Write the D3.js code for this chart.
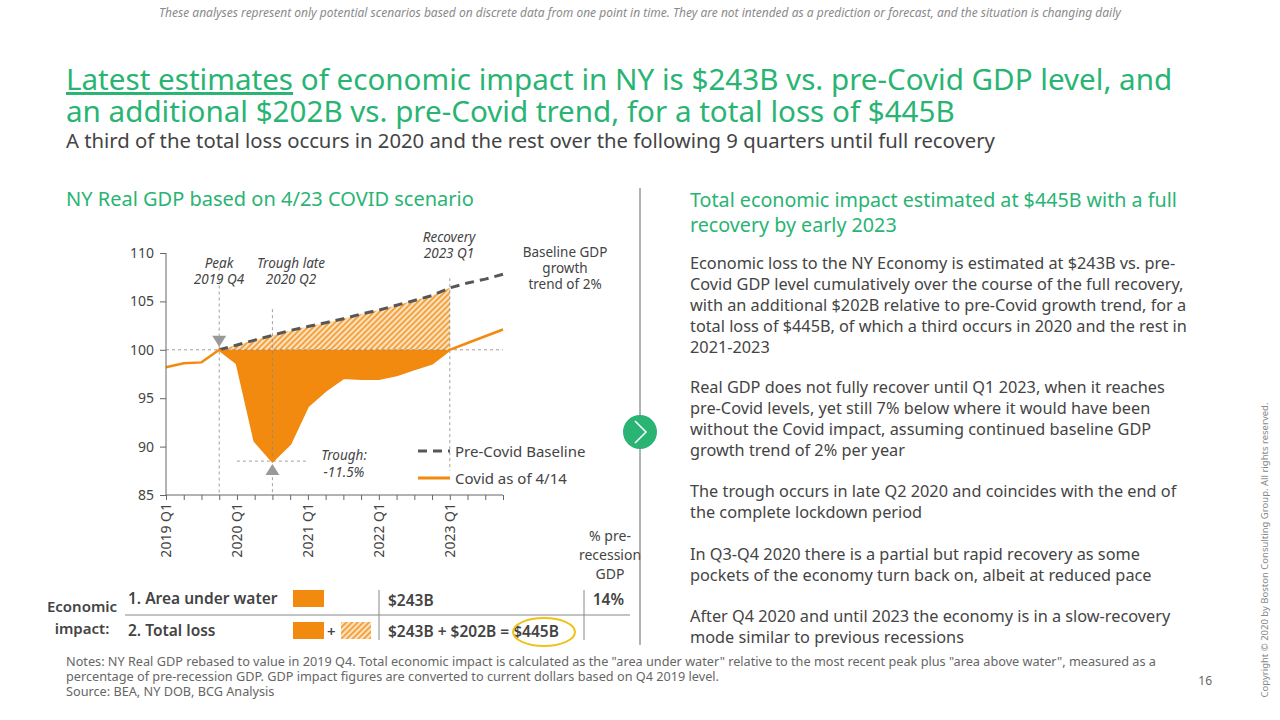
<!DOCTYPE html>
<html><head><meta charset="utf-8">
<script src="https://cdn.jsdelivr.net/npm/d3@7"></script>
<style>
body{margin:0;background:#fff;font-family:"Noto Sans",sans-serif;}
svg text{font-family:"Noto Sans",sans-serif;}
</style></head>
<body>
<script>
// quarters from 2019 Q1 to 2023 Q4
var quarters = ["2019 Q1","2019 Q2","2019 Q3","2019 Q4","2020 Q1","2020 Q2","2020 Q3","2020 Q4",
  "2021 Q1","2021 Q2","2021 Q3","2021 Q4","2022 Q1","2022 Q2","2022 Q3","2022 Q4",
  "2023 Q1","2023 Q2","2023 Q3","2023 Q4"];
var tickLabels = ["2019 Q1","2020 Q1","2021 Q1","2022 Q1","2023 Q1"];
var covid = [98.2,98.6,98.7,100,98.6,90.6,88.5,90.3,94.2,95.8,97.1,97.0,97.0,97.4,98.0,98.6,100,100.7,101.4,102.1];
// baseline trend starts at the 2019 Q4 peak
var baseline = [null,null,null,100,100.5,101.0,101.5,102.0,102.4,102.8,103.2,103.7,104.1,104.6,105.1,105.6,106.4,106.9,107.3,107.8];
var yTicks = [85,90,95,100,105,110];

var green = "#29B473", grey = "#575757", orange = "#F28A0F";
var svg = d3.select("body").append("svg").attr("width",1280).attr("height",720);

var defs = svg.append("defs");
var pat = defs.append("pattern").attr("id","hatch").attr("patternUnits","userSpaceOnUse")
  .attr("width",4).attr("height",4).attr("patternTransform","rotate(45)");
pat.append("rect").attr("width",4).attr("height",4).attr("fill","#fbe3c2");
pat.append("rect").attr("width",2).attr("height",4).attr("fill","#F5A340");

// header
svg.append("text").attr("x",640).attr("y",17).attr("text-anchor","middle").attr("font-size",12)
  .attr("font-style","italic").attr("fill","#8a8a8a")
  .text("These analyses represent only potential scenarios based on discrete data from one point in time. They are not intended as a prediction or forecast, and the situation is changing daily");
var t1 = svg.append("text").attr("x",66).attr("y",90).attr("font-size",29.6).attr("fill",green);
t1.append("tspan").attr("text-decoration","underline").text("Latest estimates");
t1.append("tspan").text(" of economic impact in NY is $243B vs. pre-Covid GDP level, and");
svg.append("text").attr("x",66).attr("y",122).attr("font-size",29.6).attr("fill",green)
  .text("an additional $202B vs. pre-Covid trend, for a total loss of $445B");
svg.append("text").attr("x",66).attr("y",148).attr("font-size",20.3).attr("fill","#444")
  .text("A third of the total loss occurs in 2020 and the rest over the following 9 quarters until full recovery");

svg.append("text").attr("x",66).attr("y",206).attr("font-size",20).attr("fill",green)
  .text("NY Real GDP based on 4/23 COVID scenario");

// chart
var x = d3.scaleLinear().domain([0,19]).range([166,503]);
var y = d3.scaleLinear().domain([85,110]).range([495,253]);
var g = svg.append("g");

var idx = d3.range(3,17);
g.append("path").datum(idx).attr("fill","url(#hatch)")
  .attr("d", d3.area().x(function(i){return x(i);}).y0(y(100)).y1(function(i){return y(baseline[i]);}));
g.append("path").datum(idx).attr("fill",orange)
  .attr("d", d3.area().x(function(i){return x(i);}).y0(y(100)).y1(function(i){return y(covid[i]);}));

// reference dashed lines
var ref = g.append("g").attr("stroke","#888").attr("stroke-width",0.8).attr("stroke-dasharray","3,3");
ref.append("line").attr("x1",x(0)).attr("x2",x(19)).attr("y1",y(100)).attr("y2",y(100));
ref.append("line").attr("x1",x(3)).attr("x2",x(3)).attr("y1",y(108.5)).attr("y2",y(85));
ref.append("line").attr("x1",x(6)).attr("x2",x(6)).attr("y1",y(104.2)).attr("y2",y(85));
ref.append("line").attr("x1",x(16)).attr("x2",x(16)).attr("y1",y(107.4)).attr("y2",y(87.5));
ref.append("line").attr("x1",x(4)).attr("x2",x(8)).attr("y1",y(88.5)).attr("y2",y(88.5));

g.append("path").datum(d3.range(3,20)).attr("fill","none").attr("stroke",grey).attr("stroke-width",3)
  .attr("stroke-dasharray","9,6")
  .attr("d", d3.line().x(function(i){return x(i);}).y(function(i){return y(baseline[i]);}));
g.append("path").datum(covid).attr("fill","none").attr("stroke",orange).attr("stroke-width",2.5)
  .attr("d", d3.line().x(function(d,i){return x(i);}).y(function(d){return y(d);}));

// markers
g.append("path").attr("d","M-7,0 L7,0 L0,11 Z").attr("fill","#999")
  .attr("transform","translate("+x(3)+","+(y(100)-14)+")");
g.append("path").attr("d","M-7,11 L7,11 L0,0 Z").attr("fill","#999")
  .attr("transform","translate("+x(6)+","+(y(88.5)+3)+")");

// axes
var ya = g.append("g").attr("transform","translate(166,0)")
  .call(d3.axisLeft(y).tickValues(yTicks).tickSize(6).tickPadding(6));
ya.selectAll("text").attr("font-size",14).attr("fill","#444");
ya.selectAll("line,path").attr("stroke","#666");
ya.select(".domain").attr("d","M0,"+y(110)+"V"+y(85));
var xa = g.append("g").attr("transform","translate(0,495)")
  .call(d3.axisBottom(x).tickValues(d3.range(0,20)).tickSize(5).tickFormat(""));
xa.selectAll("line,path").attr("stroke","#666");
xa.select(".domain").attr("d","M"+x(0)+",0H"+x(19));
g.selectAll(".xl").data(tickLabels).enter().append("text")
  .attr("transform",function(d){return "translate("+(x(quarters.indexOf(d))+5)+",503) rotate(-90)";})
  .attr("text-anchor","end").attr("font-size",14).attr("fill","#444").text(function(d){return d;});

// annotations
function multi(xp, yp, lines, opts){
  var tx = svg.append("text").attr("x",xp).attr("y",yp).attr("text-anchor",opts.anchor||"middle")
    .attr("font-size",opts.size||13).attr("fill","#444").attr("font-style",opts.italic?"italic":null);
  lines.forEach(function(l,i){ tx.append("tspan").attr("x",xp).attr("dy",i?(opts.lh||16):0).text(l); });
  return tx;
}
multi(219,268,["Peak","2019 Q4"],{italic:1,size:13.5});
multi(291,268,["Trough late","2020 Q2"],{italic:1,size:13.5});
multi(449,242,["Recovery","2023 Q1"],{italic:1,size:13.5});
multi(344,460,["Trough:","-11.5%"],{italic:1,lh:17,size:13.5});
multi(565,257,["Baseline GDP","growth","trend of 2%"],{size:13.5});

// legend
svg.append("line").attr("x1",418).attr("x2",450).attr("y1",451).attr("y2",451)
  .attr("stroke",grey).attr("stroke-width",3).attr("stroke-dasharray","9,6");
svg.append("text").attr("x",455).attr("y",457).attr("font-size",15).attr("fill","#444").text("Pre-Covid Baseline");
svg.append("line").attr("x1",418).attr("x2",450).attr("y1",478).attr("y2",478)
  .attr("stroke",orange).attr("stroke-width",3);
svg.append("text").attr("x",455).attr("y",484).attr("font-size",15).attr("fill","#444").text("Covid as of 4/14");

// impact table
multi(610,541,["% pre-","recession","GDP"],{size:14,lh:19});
multi(82,612,["Economic","impact:"],{size:15,lh:22}).attr("font-weight",600);
svg.append("text").attr("x",128).attr("y",604).attr("font-size",15.5).attr("font-weight",600).attr("fill","#444").text("1. Area under water");
svg.append("text").attr("x",128).attr("y",636).attr("font-size",15.5).attr("font-weight",600).attr("fill","#444").text("2. Total loss");
svg.append("rect").attr("x",293).attr("y",590).attr("width",31).attr("height",17).attr("fill",orange);
svg.append("rect").attr("x",293).attr("y",622).attr("width",31).attr("height",17).attr("fill",orange);
svg.append("text").attr("x",327).attr("y",637).attr("font-size",15).attr("font-weight",600).attr("fill","#444").text("+");
svg.append("rect").attr("x",341).attr("y",622).attr("width",30).attr("height",17).attr("fill","url(#hatch)");
svg.append("line").attr("x1",125).attr("x2",630).attr("y1",615).attr("y2",615).attr("stroke","#888");
svg.append("line").attr("x1",379).attr("x2",379).attr("y1",590).attr("y2",640).attr("stroke","#888");
svg.append("line").attr("x1",584).attr("x2",584).attr("y1",590).attr("y2",640).attr("stroke","#888");
svg.append("text").attr("x",388).attr("y",606).attr("font-size",15.5).attr("font-weight",600).attr("fill","#444").text("$243B");
svg.append("text").attr("x",388).attr("y",637).attr("font-size",15.5).attr("font-weight",600).attr("fill","#444").text("$243B + $202B = $445B");
svg.append("text").attr("x",624).attr("y",605).attr("text-anchor","end").attr("font-size",15.5).attr("font-weight",600).attr("fill","#444").text("14%");
svg.append("ellipse").attr("cx",544).attr("cy",632).attr("rx",31).attr("ry",14)
  .attr("fill","none").attr("stroke","#F2C21B").attr("stroke-width",2);

// divider + circle
svg.append("line").attr("x1",640).attr("x2",640).attr("y1",188).attr("y2",645).attr("stroke","#666");
svg.append("circle").attr("cx",640).attr("cy",432).attr("r",17).attr("fill",green);
svg.append("path").attr("d","M635,421 L646,432 L635,443").attr("fill","none").attr("stroke","#fff").attr("stroke-width",1.5);

// right panel
multi(690,207,["Total economic impact estimated at $445B with a full","recovery by early 2023"],{size:19.7,anchor:"start",lh:25}).attr("fill",green);
var paras = [
  [269,["Economic loss to the NY Economy is estimated at $243B vs. pre-","Covid GDP level cumulatively over the course of the full recovery,","with an additional $202B relative to pre-Covid growth trend, for a","total loss of $445B, of which a third occurs in 2020 and the rest in","2021-2023"]],
  [393,["Real GDP does not fully recover until Q1 2023, when it reaches","pre-Covid levels, yet still 7% below where it would have been","without the Covid impact, assuming continued baseline GDP","growth trend of 2% per year"]],
  [497,["The trough occurs in late Q2 2020 and coincides with the end of","the complete lockdown period"]],
  [560,["In Q3-Q4 2020 there is a partial but rapid recovery as some","pockets of the economy turn back on, albeit at reduced pace"]],
  [622,["After Q4 2020 and until 2023 the economy is in a slow-recovery","mode similar to previous recessions"]]
];
paras.forEach(function(p){ multi(690,p[0],p[1],{size:16.3,anchor:"start",lh:21}); });

// notes
multi(66,666,["Notes: NY Real GDP rebased to value in 2019 Q4. Total economic impact is calculated as the \"area under water\" relative to the most recent peak plus \"area above water\", measured as a","percentage of pre-recession GDP. GDP impact figures are converted to current dollars based on Q4 2019 level.","Source: BEA, NY DOB, BCG Analysis"],{size:12.7,anchor:"start",lh:15}).attr("fill","#666");
svg.append("text").attr("x",1212).attr("y",685).attr("text-anchor","end").attr("font-size",12).attr("fill","#666").text("16");
svg.append("text").attr("transform","translate(1268,550) rotate(-90)").attr("text-anchor","middle")
  .attr("font-size",9.5).attr("fill","#888").text("Copyright © 2020 by Boston Consulting Group. All rights reserved.");
</script>
</body></html>
